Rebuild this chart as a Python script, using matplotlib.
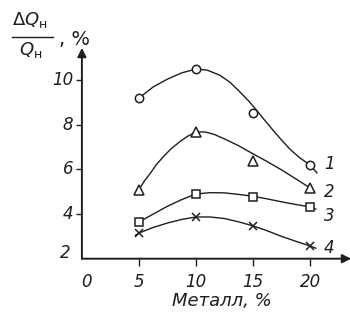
import numpy as np
import matplotlib
matplotlib.use("Agg")
import matplotlib.pyplot as plt

plt.rcParams['font.family'] = ['Liberation Sans Narrow', 'DejaVu Sans']
plt.rcParams['mathtext.fontset'] = 'custom'
plt.rcParams['mathtext.it'] = 'DejaVu Sans:italic'
plt.rcParams['mathtext.rm'] = 'DejaVu Sans'

# measured points
metal = [5, 10, 15, 20]
s1 = [9.2, 10.5, 8.55, 6.2]
s2 = [5.1, 7.68, 6.38, 5.17]
s3 = [3.64, 4.9, 4.77, 4.32]
s4 = [3.15, 3.87, 3.47, 2.57]

# smoothed curves
c1_x = [5, 6.25, 7.5, 8.75, 10, 11.0, 12.1, 13.0, 13.9, 14.6, 15.3, 16.0, 16.75, 17.5, 18.25, 19.1, 20, 20.6]
c1_y = [9.2, 9.7, 10.05, 10.33, 10.5, 10.45, 10.22, 9.9, 9.45, 9.08, 8.66, 8.22, 7.76, 7.32, 6.9, 6.52, 6.2, 5.85]
c2_x = [5, 5.5, 6.0, 6.5, 7.1, 7.8, 8.6, 9.3, 10, 10.8, 11.6, 12.5, 13.75, 15, 16.25, 17.5, 18.75, 20, 20.3]
c2_y = [5.1, 5.5, 5.83, 6.2, 6.55, 6.92, 7.25, 7.5, 7.68, 7.68, 7.57, 7.37, 7.06, 6.7, 6.35, 5.98, 5.58, 5.17, 5.05]
c3_x = [5, 6.25, 7.5, 8.75, 10, 11.25, 12.5, 13.75, 15, 16.25, 17.5, 18.75, 20, 20.5]
c3_y = [3.64, 4.0, 4.35, 4.65, 4.9, 4.96, 4.95, 4.88, 4.8, 4.68, 4.55, 4.43, 4.32, 4.22]
c4_x = [4.7, 5, 6.25, 7.5, 8.75, 10, 11.25, 12.5, 13.75, 15, 16.25, 17.5, 18.75, 20, 20.5]
c4_y = [3.05, 3.15, 3.4, 3.6, 3.76, 3.87, 3.87, 3.8, 3.65, 3.47, 3.25, 3.0, 2.78, 2.57, 2.47]

curve_labels = ['1', '2', '3', '4']
label_y = [6.25, 5.0, 3.9, 2.5]
x_ticks = [0, 5, 10, 15, 20]
y_ticks = [4, 6, 8, 10]

ink = '#1e1e1e'
fig = plt.figure(figsize=(3.5, 3.13), dpi=100)
ax = fig.add_axes([0.234, 0.1735, 0.766, 0.67])
ax.set_xlim(0, 23.5)
ax.set_ylim(2, 11.4)
for sp in ax.spines.values():
    sp.set_visible(False)

# axes with arrows
ax.annotate('', xy=(0, 11.45), xytext=(0, 2), annotation_clip=False,
            arrowprops=dict(arrowstyle='-|>', lw=1.4, color=ink, mutation_scale=13, shrinkA=0, shrinkB=0))
ax.annotate('', xy=(23.6, 2), xytext=(0, 2), annotation_clip=False,
            arrowprops=dict(arrowstyle='-|>', lw=1.4, color=ink, mutation_scale=13, shrinkA=0, shrinkB=0))

lw = 1.0
ax.plot(c1_x, c1_y, color=ink, lw=lw)
ax.plot(c2_x, c2_y, color=ink, lw=lw)
ax.plot(c3_x, c3_y, color=ink, lw=lw)
ax.plot(c4_x, c4_y, color=ink, lw=lw)

mk = dict(linestyle='none', markerfacecolor='white', markeredgecolor=ink, markeredgewidth=1.1, zorder=3)
ax.plot(metal, s1, marker='o', markersize=6, **mk)
ax.plot(metal, s2, marker='^', markersize=7.5, **mk)
ax.plot(metal, s3, marker='s', markersize=6, **mk)
ax.plot(metal, s4, marker='x', markersize=6, linestyle='none', color=ink, markeredgewidth=1.1, zorder=3)

for lab, yy in zip(curve_labels, label_y):
    ax.text(21.2, yy, lab, fontsize=12, style='italic', color=ink, va='center', ha='left')

ax.set_xticks([5, 10, 15, 20])
ax.set_xticklabels([])
ax.set_yticks(y_ticks)
ax.set_yticklabels([])
ax.tick_params(axis='x', direction='out', length=5, width=1.0, colors=ink)
ax.tick_params(axis='y', direction='out', length=4, width=1.0, colors=ink)

for t in x_ticks:
    ax.text(t + (0.4 if t == 0 else 0), 2 - 1.05, str(t), fontsize=12, style='italic',
            color=ink, ha='center', va='center')
for t in y_ticks + [2]:
    ax.text(-0.75 if t != 2 else -1.0, t + (0.25 if t == 2 else 0), str(t), fontsize=12,
            style='italic', color=ink, ha='right', va='center')

ax.text(12.3, 2 - 1.9, 'Металл, %', fontsize=13, style='italic', color=ink, ha='center', va='center')

# y label as a fraction
fig.text(0.034, 0.935, r'$\Delta Q_{\mathrm{н}}$', fontsize=13, color=ink, ha='left', va='center')
fig.text(0.055, 0.84, r'$Q_{\mathrm{н}}$', fontsize=13, color=ink, ha='left', va='center')
fig.add_artist(plt.Line2D([0.034, 0.15], [0.882, 0.882], color=ink, lw=1.0))
fig.text(0.168, 0.875, ', %', fontsize=14, color=ink, ha='left', va='center')

fig.savefig('out.png', dpi=100, facecolor='white')
